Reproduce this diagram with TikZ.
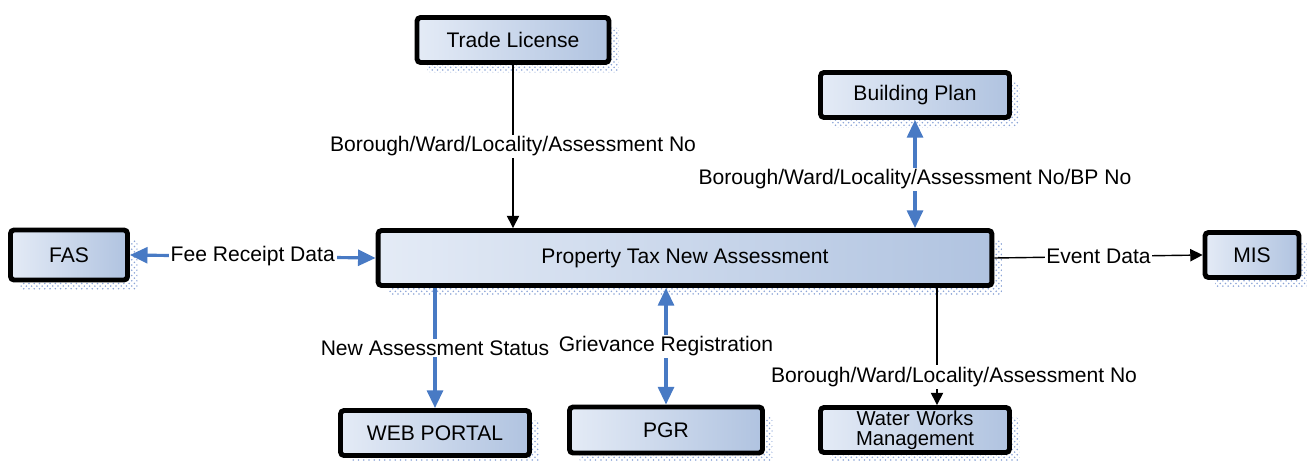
\documentclass[tikz,border=0pt]{standalone}
\usepackage{fontspec}
\setmainfont{Liberation Sans}
\usetikzlibrary{positioning, arrows.meta, shadows, patterns}
\definecolor{boxlight}{RGB}{228,235,246}
\definecolor{boxdark}{RGB}{176,195,224}
\definecolor{linkblue}{RGB}{72,122,196}
\definecolor{shadowblue}{RGB}{140,165,215}
\tikzset{
  module/.style={rectangle, rounded corners=2pt, line width=2.8pt, draw=black, left color=boxlight, right color=boxdark, text centered, font=\fontsize{12}{13}\selectfont,
    drop shadow={shadow xshift=0.2cm, shadow yshift=-0.2cm, opacity=1, fill=none, pattern=crosshatch dots, pattern color=shadowblue}},
  flow/.style={thick,-{Triangle[length=7pt,width=7pt]}},
  link/.style={line width=1.8pt, draw=linkblue, -{Triangle[length=10pt,width=9pt]}},
  twoway/.style={link, {Triangle[length=10pt,width=9pt]}-{Triangle[length=10pt,width=9pt]}},
  lbl/.style={fill=white, inner sep=1pt, font=\fontsize{12}{13}\selectfont}
}
\begin{document}
\begin{tikzpicture}[x=0.02cm, y=-0.02cm]
    \useasboundingbox (0,0) rectangle (1307,460);
    \node (pt) [module, minimum width=12.28cm, minimum height=1.1cm] at (685,258) {Property Tax New Assessment};
    \node (trade) [module, minimum width=3.84cm, minimum height=0.9cm] at (513,40) {Trade License};
    \node (bplan) [module, minimum width=3.78cm, minimum height=0.9cm] at (915,95) {Building Plan};
    \node (fas) [module, minimum width=2.34cm, minimum height=1.0cm] at (69,255) {FAS};
    \node (mis) [module, minimum width=1.88cm, minimum height=0.9cm] at (1252,255) {MIS};
    \node (web) [module, minimum width=3.78cm, minimum height=0.9cm] at (435,433) {WEB PORTAL};
    \node (pgr) [module, minimum width=3.86cm, minimum height=0.92cm] at (666,430) {PGR};
    \node (water) [module, minimum width=3.78cm, minimum height=0.9cm, text width=3.6cm, align=center, inner sep=1pt, font=\fontsize{11.5}{11.5}\selectfont] at (915,430) {Water Works\\Management};

    \draw [flow] (trade.south) -- node[lbl] {Borough/Ward/Locality/Assessment No} (trade.south |- pt.north);
    \draw [twoway] (bplan.south) -- node[lbl, pos=0.55] {Borough/Ward/Locality/Assessment No/BP No} (bplan.south |- pt.north);
    \draw [twoway] (fas.east) -- node[lbl] {Fee Receipt Data} (pt.west);
    \draw [flow] (pt.east) -- node[lbl] {Event Data} (mis.west);
    \draw [link] (pt.south -| web.north) -- node[lbl] {New Assessment Status} (web.north);
    \draw [twoway] (pt.south -| pgr.north) -- node[lbl] {Grievance Registration} (pgr.north);
    \draw [flow] ([xshift=0.44cm]water.north |- pt.south) -- node[lbl, pos=0.76, xshift=0.34cm] {Borough/Ward/Locality/Assessment No} ([xshift=0.44cm]water.north);
\end{tikzpicture}
\end{document}
